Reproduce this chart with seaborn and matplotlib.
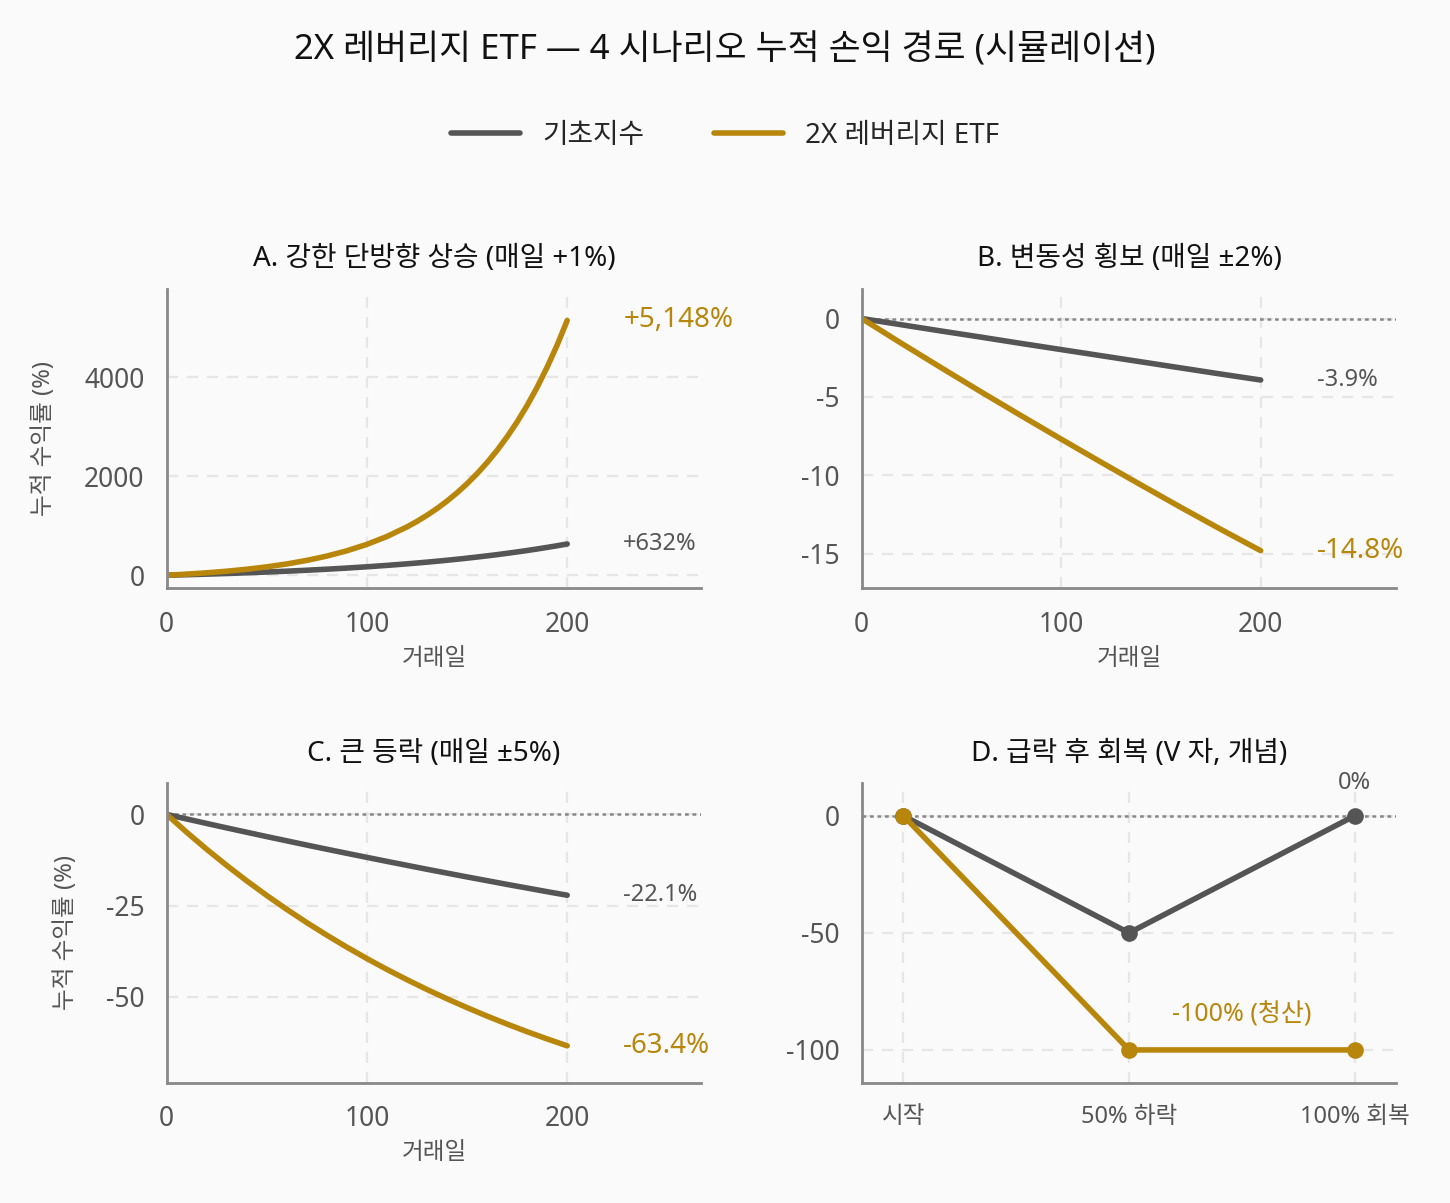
import matplotlib
matplotlib.use("Agg")
import matplotlib.pyplot as plt
import seaborn as sns
import pandas as pd

# values (cumulative return, %)
days_a = [0, 10, 20, 30, 40, 50, 60, 70, 80, 90, 100, 110, 120, 125, 130, 135, 140,
          145, 150, 155, 160, 165, 170, 175, 180, 185, 190, 195, 200]
base_a = [0, 10.5, 22.0, 34.8, 48.9, 64.5, 81.7, 100.7, 121.7, 144.9, 170.5, 198.7,
          230.0, 246.9, 264.5, 283.1, 302.6, 323.2, 344.8, 367.5, 391.3, 416.4, 442.8,
          470.4, 499.6, 530.1, 562.5, 596.0, 631.6]
etf_a = [0, 21.9, 48.6, 81.1, 120.8, 169.2, 228.1, 299.9, 387.5, 494.3, 624.5, 783.2,
         976.5, 1088.6, 1212, 1348.8, 1499, 1666.1, 1850, 2052.7, 2277, 2524, 2798,
         3099, 3432, 3799, 4206, 4653, 5148]

days_b = [0, 20, 40, 60, 80, 100, 120, 140, 160, 180, 200]
base_b = [0, -0.40, -0.80, -1.19, -1.59, -1.98, -2.37, -2.76, -3.15, -3.54, -3.92]
etf_b = [0, -1.59, -3.15, -4.69, -6.20, -7.69, -9.16, -10.61, -12.04, -13.44, -14.8]

days_c = [0, 10, 20, 30, 40, 50, 60, 70, 80, 90, 100,
          110, 120, 130, 140, 150, 160, 170, 180, 190, 200]
base_c = [0, -1.24, -2.47, -3.69, -4.88, -6.07, -7.23, -8.39, -9.53, -10.65, -11.76,
          -12.86, -13.94, -15.02, -16.07, -17.12, -18.14, -19.17, -20.16, -21.16, -22.13]
etf_c = [0, -4.90, -9.56, -13.99, -18.21, -22.22, -26.03, -29.66, -33.10, -36.38, -39.50,
         -42.47, -45.28, -47.97, -50.52, -52.94, -55.25, -57.44, -59.53, -61.51, -63.40]

steps_d = ["시작", "50% 하락", "100% 회복"]
base_d = [0, -50, 0]
etf_d = [0, -100, -100]

titles = ["A. 강한 단방향 상승 (매일 +1%)", "B. 변동성 횡보 (매일 ±2%)",
          "C. 큰 등락 (매일 ±5%)", "D. 급락 후 회복 (V 자, 개념)"]
series_names = ["기초지수", "2X 레버리지 ETF"]

GRAY = "#555555"
GOLD = "#b8860b"
BG = "#fafafa"

sns.set_style("white")
plt.rcParams["font.family"] = ["Noto Sans", "Noto Sans CJK KR", "DejaVu Sans"]
plt.rcParams["axes.unicode_minus"] = False
plt.rcParams["figure.facecolor"] = BG
plt.rcParams["axes.facecolor"] = BG


def style_axis(ax, zero_line=True):
    for s in ["top", "right"]:
        ax.spines[s].set_visible(False)
    for s in ["left", "bottom"]:
        ax.spines[s].set_color("#888888")
        ax.spines[s].set_linewidth(1.0)
    ax.grid(True, linestyle=(0, (5, 4)), color="#e6e6e6", linewidth=0.8)
    ax.tick_params(axis="both", colors="#888888", labelcolor="#555555",
                   labelsize=9.5, length=3, width=0.8, direction="out", pad=5)
    ax.set_axisbelow(True)
    if zero_line:
        ax.axhline(0, color="#888888", linestyle=(0, (1.5, 1.5)), linewidth=0.9, zorder=1)


def end_labels(ax, base_txt, base_y, etf_txt, etf_y):
    ax.text(228, base_y, base_txt, color=GRAY, fontsize=8.5, ha="left", va="center")
    ax.text(228, etf_y, etf_txt, color=GOLD, fontsize=10, ha="left", va="center")


fig, axes = plt.subplots(2, 2, figsize=(7.25, 6.015), dpi=200)
fig.subplots_adjust(left=0.115, right=0.963, top=0.76, bottom=0.1, wspace=0.3, hspace=0.65)
ax_a, ax_b, ax_c, ax_d = axes.flat

# A
style_axis(ax_a, zero_line=False)
sns.lineplot(x=days_a, y=base_a, color=GRAY, linewidth=2, ax=ax_a, label=series_names[0])
sns.lineplot(x=days_a, y=etf_a, color=GOLD, linewidth=2, ax=ax_a, label=series_names[1])
ax_a.set_xlim(0, 267)
ax_a.set_ylim(-265, 5790)
ax_a.set_yticks([0, 2000, 4000])
end_labels(ax_a, "+632%", base_a[-1], "+5,148%", etf_a[-1])

# B
style_axis(ax_b)
sns.lineplot(x=days_b, y=base_b, color=GRAY, linewidth=2, ax=ax_b)
sns.lineplot(x=days_b, y=etf_b, color=GOLD, linewidth=2, ax=ax_b)
ax_b.set_xlim(0, 268)
ax_b.set_ylim(-17.2, 1.9)
ax_b.set_yticks([0, -5, -10, -15])
end_labels(ax_b, "-3.9%", base_b[-1], "-14.8%", etf_b[-1])

# C
style_axis(ax_c)
sns.lineplot(x=days_c, y=base_c, color=GRAY, linewidth=2, ax=ax_c)
sns.lineplot(x=days_c, y=etf_c, color=GOLD, linewidth=2, ax=ax_c)
ax_c.set_xlim(0, 267)
ax_c.set_ylim(-73.5, 8.6)
ax_c.set_yticks([0, -25, -50])
end_labels(ax_c, "-22.1%", base_c[-1], "-63.4%", etf_c[-1])

for ax in (ax_a, ax_b, ax_c):
    ax.set_xticks([0, 100, 200])
    ax.set_xlabel("거래일", fontsize=8.5, color="#555555", labelpad=3)
    if ax.get_legend() is not None:
        ax.get_legend().remove()
ax_a.set_ylabel("누적 수익률 (%)", fontsize=8.5, color="#555555", labelpad=10)
ax_c.set_ylabel("누적 수익률 (%)", fontsize=8.5, color="#555555", labelpad=10)
ax_b.set_ylabel("")

# D
style_axis(ax_d)
pos_d = list(range(len(steps_d)))
sns.lineplot(x=pos_d, y=base_d, color=GRAY, linewidth=2, marker="o", markersize=6,
             markeredgewidth=0, ax=ax_d)
sns.lineplot(x=pos_d, y=etf_d, color=GOLD, linewidth=2, marker="o", markersize=6,
             markeredgewidth=0, ax=ax_d)
ax_d.set_xticks(pos_d)
ax_d.set_xticklabels(steps_d, fontsize=8.5)
ax_d.set_xlim(-0.185, 2.185)
ax_d.set_ylim(-114, 14)
ax_d.set_yticks([0, -50, -100])
ax_d.text(2, 9, "0%", color=GRAY, fontsize=8.5, ha="center", va="bottom")
ax_d.text(1.5, -85, "-100% (청산)", color=GOLD, fontsize=9, ha="center", va="center")

for ax, t in zip(axes.flat, titles):
    ax.set_title(t, fontsize=10, color="#111111", pad=8)

handles, labels = ax_a.get_legend_handles_labels()
fig.legend(handles, labels, loc="center", bbox_to_anchor=(0.5, 0.887), ncol=2,
           frameon=False, fontsize=10, handlelength=2.5, columnspacing=2.5)
fig.suptitle("2X 레버리지 ETF — 4 시나리오 누적 손익 경로 (시뮬레이션)",
             fontsize=12.5, y=0.958, va="center", color="#111111")

fig.savefig("out.png", dpi=200, facecolor=BG)
